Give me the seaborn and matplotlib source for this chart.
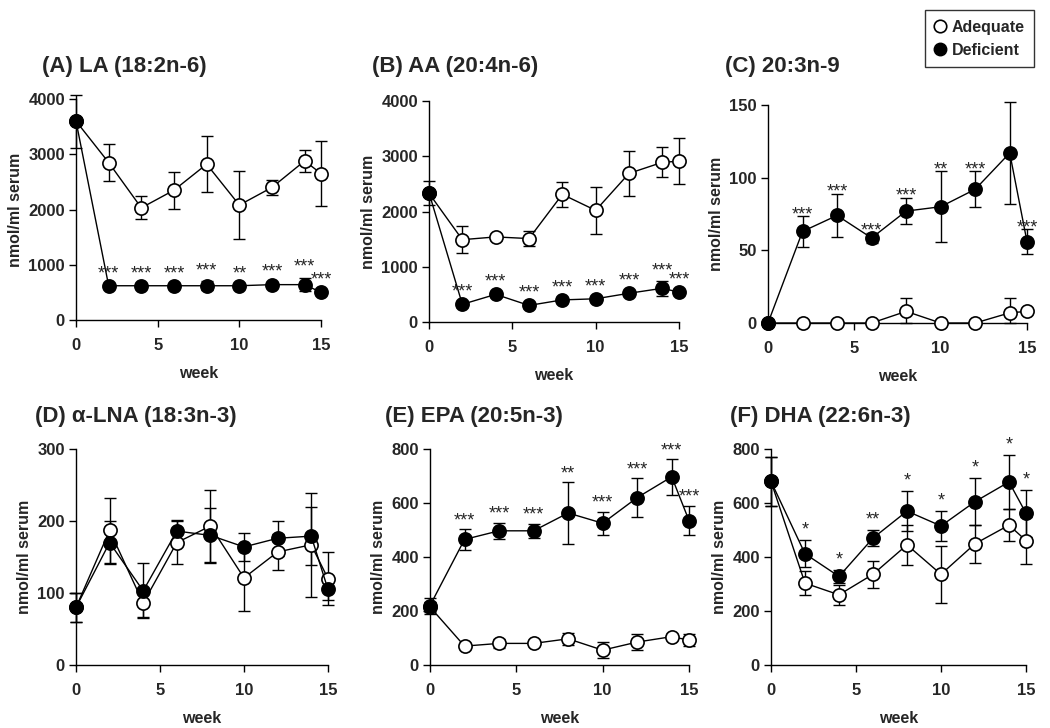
import numpy as np
import pandas as pd
import seaborn as sns
import matplotlib
matplotlib.use('Agg')
import matplotlib.pyplot as plt
from matplotlib.lines import Line2D

sns.set_style('ticks')
plt.rcParams['font.family'] = ['Liberation Sans', 'DejaVu Sans']
plt.rcParams['font.weight'] = 'bold'
plt.rcParams['axes.labelweight'] = 'bold'

weeks = [0, 2, 4, 6, 8, 10, 12, 14, 15]

# (A) LA
la_adq = [3600, 2850, 2030, 2350, 2820, 2080, 2400, 2880, 2650]
la_adq_err = [480, 340, 210, 335, 510, 620, 140, 195, 590]
la_def = [3600, 620, 620, 620, 620, 620, 640, 640, 500]
la_def_err = [0, 30, 30, 30, 80, 30, 30, 120, 30]
la_stars = ['', '***', '***', '***', '***', '**', '***', '***', '***']

# (B) AA
aa_adq = [2330, 1490, 1540, 1510, 2310, 2020, 2690, 2890, 2910]
aa_adq_err = [220, 245, 60, 140, 220, 420, 410, 270, 420]
aa_def = [2340, 320, 500, 300, 400, 420, 520, 610, 540]
aa_def_err = [0, 40, 40, 40, 40, 40, 40, 140, 40]
aa_stars = ['', '***', '***', '***', '***', '***', '***', '***', '***']

# (C) 20:3n-9
mead_adq = [0, 0, 0, 0, 8, 0, 0, 7, 8]
mead_adq_err = [0, 0, 0, 0, 9, 0, 0, 10, 0]
mead_def = [0, 63, 74, 58.5, 77, 80, 92, 117, 56]
mead_def_err = [0, 10.5, 15, 3.5, 9, 24.5, 12.5, 35, 8.5]
mead_stars = ['', '***', '***', '***', '***', '**', '***', '**', '***']

# (D) alpha-LNA
lna_adq = [80, 187, 86, 170, 193, 121, 157, 167, 120]
lna_adq_err = [20, 45, 20, 30, 50, 46, 25, 72, 37]
lna_def = [80, 170, 103, 186, 180, 164, 176, 179, 105]
lna_def_err = [20, 30, 38, 15, 38, 20, 24, 40, 15]
lna_stars = [''] * 9

# (E) EPA
epa_adq = [215, 70, 80, 80, 97, 55, 85, 105, 92]
epa_adq_err = [20, 5, 18, 5, 22, 30, 28, 10, 22]
epa_def = [220, 465, 497, 497, 563, 525, 620, 697, 535]
epa_def_err = [30, 38, 30, 27, 113, 42, 71, 66, 54]
epa_stars = ['', '***', '***', '***', '**', '***', '***', '***', '***']

# (F) DHA
dha_adq = [680, 303, 260, 336, 445, 336, 449, 518, 461]
dha_adq_err = [90, 45, 38, 50, 75, 105, 70, 60, 87]
dha_def = [680, 412, 328, 470, 570, 515, 605, 678, 562]
dha_def_err = [90, 50, 25, 30, 75, 55, 87, 100, 87]
dha_stars = ['', '*', '*', '**', '*', '*', '*', '*', '*']

W, H = 1050, 728
fig = plt.figure(figsize=(W / 100, H / 100), dpi=100)


def px_axes(left, right, top, bottom):
    return fig.add_axes([left / W, 1 - bottom / H, (right - left) / W, (bottom - top) / H])


panels = [
    # title, title x, title baseline, axes box, ymax, yticks, data, star offset (pt)
    ('(A) LA (18:2n-6)', 42, 72, (76, 321, 99, 320), 4000, [0, 1000, 2000, 3000, 4000],
     la_adq, la_adq_err, la_def, la_def_err, la_stars, 1.5),
    ('(B) AA (20:4n-6)', 372, 72, (429, 679, 101, 322), 4000, [0, 1000, 2000, 3000, 4000],
     aa_adq, aa_adq_err, aa_def, aa_def_err, aa_stars, 1),
    ('(C) 20:3n-9', 725, 72, (768, 1027, 105, 323), 150, [0, 50, 100, 150],
     mead_adq, mead_adq_err, mead_def, mead_def_err, mead_stars, -5),
    ('(D) α-LNA (18:3n-3)', 35, 422, (76, 328, 449, 665), 300, [0, 100, 200, 300],
     lna_adq, lna_adq_err, lna_def, lna_def_err, lna_stars, 0),
    ('(E) EPA (20:5n-3)', 385, 422, (430, 689, 449, 665), 800, [0, 200, 400, 600, 800],
     epa_adq, epa_adq_err, epa_def, epa_def_err, epa_stars, 0),
    ('(F) DHA (22:6n-3)', 730, 422, (771, 1026, 449, 665), 800, [0, 200, 400, 600, 800],
     dha_adq, dha_adq_err, dha_def, dha_def_err, dha_stars, 1),
]

for (title, tx, ty, box, ymax, yticks, adq, adq_err, dfc, dfc_err, stars, soff) in panels:
    ax = px_axes(*box)
    df = pd.DataFrame({'week': weeks, 'adq': adq, 'adq_err': adq_err,
                       'def': dfc, 'def_err': dfc_err})

    for col, face in [('adq', 'white'), ('def', 'black')]:
        lower = np.minimum(df[col + '_err'], df[col])
        ax.errorbar(df['week'], df[col], yerr=[lower, df[col + '_err']], fmt='none',
                    ecolor='black', elinewidth=1, capsize=4, capthick=1,
                    clip_on=False, zorder=2)
        sns.lineplot(data=df, x='week', y=col, ax=ax, color='black', lw=1,
                     marker='o', markersize=9.5, markerfacecolor=face,
                     markeredgecolor='black', markeredgewidth=1.2,
                     errorbar=None, clip_on=False, zorder=3)

    for wk, m, e, s in zip(weeks, dfc, dfc_err, stars):
        if s:
            ax.annotate(s, (wk, m + e), xytext=(0, soff), textcoords='offset points',
                        ha='center', va='bottom', fontsize=13, fontweight='normal')

    ax.set_xlim(0, 15)
    ax.set_ylim(0, ymax)
    ax.set_xticks([0, 5, 10, 15])
    ax.set_yticks(yticks)
    ax.tick_params(axis='both', labelsize=12, length=5, width=1, color='black')
    ax.tick_params(axis='x', pad=8)
    ax.tick_params(axis='y', pad=3)
    for lab in ax.get_xticklabels() + ax.get_yticklabels():
        lab.set_fontweight('bold')
    sns.despine(ax=ax)
    for sp in ['left', 'bottom']:
        ax.spines[sp].set_linewidth(1)
        ax.spines[sp].set_color('black')
    ax.set_xlabel('week', fontsize=11.5, fontweight='bold', labelpad=9)
    ax.set_ylabel('nmol/ml serum', fontsize=11.5, fontweight='bold', labelpad=4)
    fig.text(tx / W, 1 - ty / H, title, fontsize=16, fontweight='bold', va='baseline')

handles = [
    Line2D([], [], ls='none', marker='o', markersize=9, markerfacecolor='white',
           markeredgecolor='black', markeredgewidth=1.2),
    Line2D([], [], ls='none', marker='o', markersize=9, markerfacecolor='black',
           markeredgecolor='black'),
]
leg = fig.legend(handles, ['Adequate', 'Deficient'], loc='upper right',
                 bbox_to_anchor=(1034 / W, 1 - 10 / H), borderaxespad=0,
                 frameon=True, fancybox=False,
                 edgecolor='black', prop={'size': 11.5, 'weight': 'bold'},
                 handlelength=0.7, handletextpad=0.35, borderpad=0.6, labelspacing=0.5)
leg.get_frame().set_linewidth(1)

fig.savefig('out.png', dpi=100)
